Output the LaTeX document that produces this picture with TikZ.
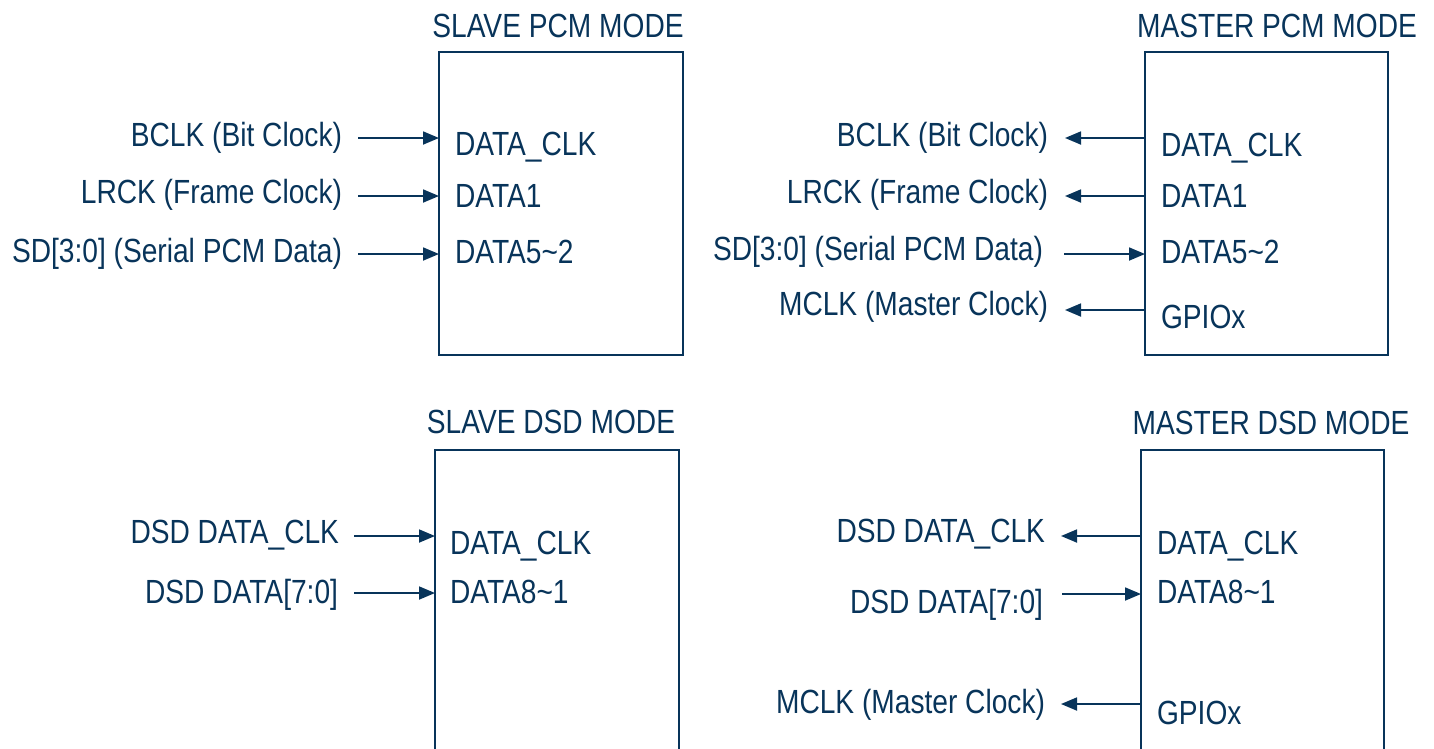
\documentclass[tikz,border=0pt]{standalone}
\usepackage{fontspec}
\setmainfont{Liberation Sans}[FakeStretch=0.84]
\usetikzlibrary{arrows.meta}
\definecolor{navy}{RGB}{8,52,90}
\tikzset{
  box/.style={draw=navy, line width=1.8pt, rectangle, inner sep=0pt, outer sep=0pt, anchor=north west},
  lbl/.style={text=navy, inner sep=0pt, outer sep=0pt, font=\fontsize{33.5pt}{40pt}\selectfont},
  lbll/.style={lbl, anchor=base east},
  lblr/.style={lbl, anchor=base west},
  ttl/.style={lbl, anchor=base},
  arr/.style={draw=navy, line width=1.8pt, -{Triangle[length=16pt 0,width=13pt 0]}}
}
\begin{document}
\begin{tikzpicture}[x=1pt,y=-1pt]
\useasboundingbox (0,0) rectangle (1434,748);
\clip (0,0) rectangle (1434,748);

% ---------- SLAVE PCM ----------
\node[ttl] (tspcm) at (558,37) {SLAVE PCM MODE};
\node[box, minimum width=244pt, minimum height=303pt] (spcm) at (439,52) {};
\node[lblr] (spcmA) at (455,155) {DATA\_CLK};
\node[lblr] (spcmB) at (455,207) {DATA1};
\node[lblr] (spcmC) at (455,263) {DATA5\textasciitilde2};
\node[lbll] (spcmL1) at (342,146) {BCLK (Bit Clock)};
\node[lbll] (spcmL2) at (342,203) {LRCK (Frame Clock)};
\node[lbll] (spcmL3) at (342,262) {SD[3:0] (Serial PCM Data)};
\coordinate (sp1) at (358,138);
\coordinate (sp2) at (358,196);
\coordinate (sp3) at (358,254);
\draw[arr] (sp1) -- (sp1 -| spcm.west);
\draw[arr] (sp2) -- (sp2 -| spcm.west);
\draw[arr] (sp3) -- (sp3 -| spcm.west);

% ---------- MASTER PCM ----------
\node[ttl] (tmpcm) at (1277,37) {MASTER PCM MODE};
\node[box, minimum width=243pt, minimum height=303pt] (mpcm) at (1145,52) {};
\node[lblr] (mpcmA) at (1161,156) {DATA\_CLK};
\node[lblr] (mpcmB) at (1161,207) {DATA1};
\node[lblr] (mpcmC) at (1161,263) {DATA5\textasciitilde2};
\node[lblr] (mpcmD) at (1161,328) {GPIOx};
\node[lbll] (mpcmL1) at (1048,146) {BCLK (Bit Clock)};
\node[lbll] (mpcmL2) at (1048,203) {LRCK (Frame Clock)};
\node[lbll] (mpcmL3) at (1043,260) {SD[3:0] (Serial PCM Data)};
\node[lbll] (mpcmL4) at (1048,315) {MCLK (Master Clock)};
\coordinate (mp1) at (1065,138);
\coordinate (mp2) at (1065,196);
\coordinate (mp3) at (1064,254);
\coordinate (mp4) at (1065,310);
\draw[arr] (mp1 -| mpcm.west) -- (mp1);
\draw[arr] (mp2 -| mpcm.west) -- (mp2);
\draw[arr] (mp3) -- (mp3 -| mpcm.west);
\draw[arr] (mp4 -| mpcm.west) -- (mp4);

% ---------- SLAVE DSD ----------
\node[ttl] (tsdsd) at (551,433) {SLAVE DSD MODE};
\node[box, minimum width=244pt, minimum height=400pt] (sdsd) at (435,450) {};
\node[lblr] (sdsdA) at (450,554) {DATA\_CLK};
\node[lblr] (sdsdB) at (450,603) {DATA8\textasciitilde1};
\node[lbll] (sdsdL1) at (339,543) {DSD DATA\_CLK};
\node[lbll] (sdsdL2) at (338,603) {DSD DATA[7:0]};
\coordinate (sd1) at (354,536);
\coordinate (sd2) at (354,593);
\draw[arr] (sd1) -- (sd1 -| sdsd.west);
\draw[arr] (sd2) -- (sd2 -| sdsd.west);

% ---------- MASTER DSD ----------
\node[ttl] (tmdsd) at (1271,434) {MASTER DSD MODE};
\node[box, minimum width=243pt, minimum height=400pt] (mdsd) at (1141,450) {};
\node[lblr] (mdsdA) at (1157,554) {DATA\_CLK};
\node[lblr] (mdsdB) at (1157,603) {DATA8\textasciitilde1};
\node[lblr] (mdsdC) at (1157,724) {GPIOx};
\node[lbll] (mdsdL1) at (1045,542) {DSD DATA\_CLK};
\node[lbll] (mdsdL2) at (1043,613) {DSD DATA[7:0]};
\node[lbll] (mdsdL3) at (1045,713) {MCLK (Master Clock)};
\coordinate (md1) at (1061,536);
\coordinate (md2) at (1062,594);
\coordinate (md3) at (1061,704);
\draw[arr] (md1 -| mdsd.west) -- (md1);
\draw[arr] (md2) -- (md2 -| mdsd.west);
\draw[arr] (md3 -| mdsd.west) -- (md3);
\end{tikzpicture}
\end{document}
